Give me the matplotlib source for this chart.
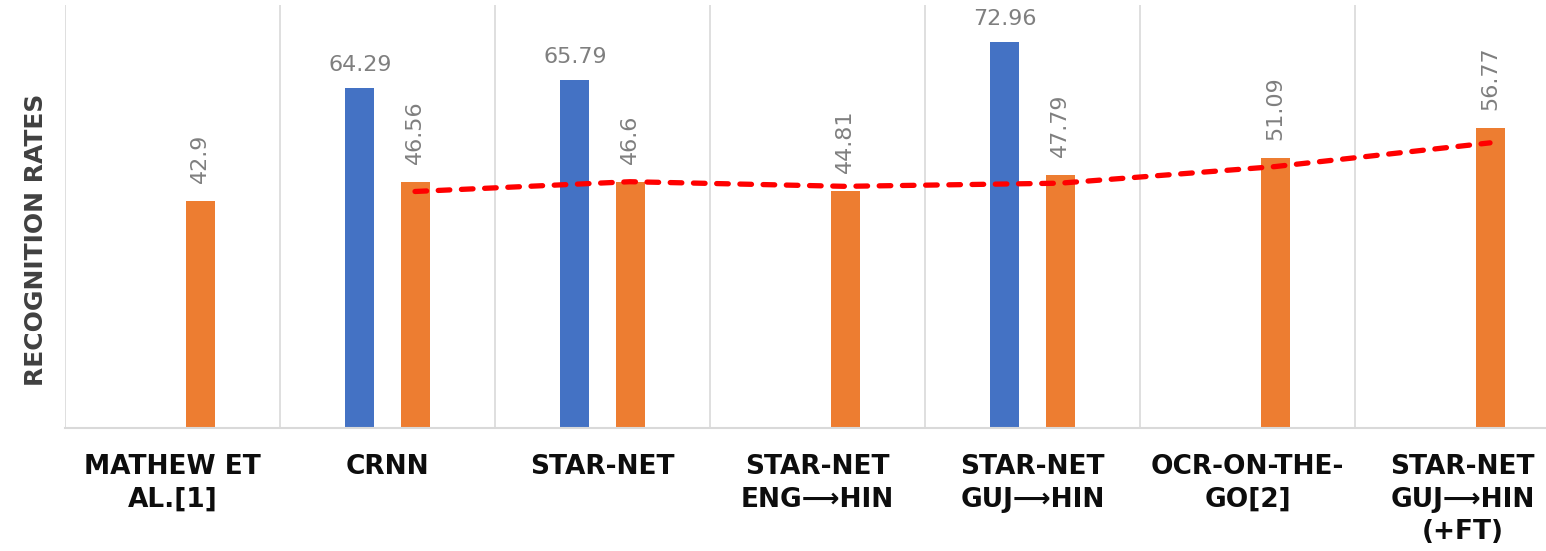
import numpy as np
import matplotlib
matplotlib.use("Agg")
import matplotlib.pyplot as plt

# recognition rates per method
categories = [
    "MATHEW ET\nAL.[1]",
    "CRNN",
    "STAR-NET",
    "STAR-NET\nENG\u27f6HIN",
    "STAR-NET\nGUJ\u27f6HIN",
    "OCR-ON-THE-\nGO[2]",
    "STAR-NET\nGUJ\u27f6HIN\n(+FT)",
]
series_a = [np.nan, 64.29, 65.79, np.nan, 72.96, np.nan, np.nan]
series_b = [42.9, 46.56, 46.6, 44.81, 47.79, 51.09, 56.77]

BLUE = "#4472C4"
ORANGE = "#ED7D31"
GRID = "#D9D9D9"
LABEL_GRAY = "#7F7F7F"

W, H = 1546, 551
fig = plt.figure(figsize=(W / 100, H / 100), dpi=100)
ax = fig.add_axes([65 / W, 1 - 428 / H, 1505 / W, 423 / H])

x = np.arange(len(categories))
bar_w = 0.135
off = 0.128

ax.bar(x - off, series_a, width=bar_w, color=BLUE, zorder=2)
ax.bar(x + off, series_b, width=bar_w, color=ORANGE, zorder=2)

# value labels: blue horizontal, orange rotated
for xi, v in zip(x, series_a):
    if np.isnan(v):
        continue
    ax.annotate(f"{v:g}", (xi - off, v), xytext=(0, 9.5), textcoords="offset points",
                ha="center", va="bottom", fontsize=16, color=LABEL_GRAY)
for xi, v in zip(x, series_b):
    ax.annotate(f"{v:g}", (xi + off, v), xytext=(0, 13), textcoords="offset points",
                ha="center", va="bottom", rotation=90, fontsize=16, color=LABEL_GRAY)

# 2-period moving average trendline over the orange series
ma = np.convolve(series_b, [0.5, 0.5], mode="valid")
ax.plot(x[1:] + off, ma, color="#FF0000", lw=3.8, dashes=(2.2, 2.2),
        dash_capstyle="round", solid_capstyle="round", zorder=3)

# category separators
ax.vlines(np.arange(-0.5, len(categories) + 0.5), 0, 80, color=GRID, lw=1.2, zorder=1)

ax.set_xlim(-0.5, len(categories) - 0.5)
ax.set_ylim(0, 80)
ax.set_yticks([])
ax.set_xticks(x)
ax.set_xticklabels(categories, fontsize=19, fontweight="bold", color="#0D0D0D",
                   linespacing=1.32)
ax.tick_params(axis="x", length=0, pad=19)
for side in ("top", "right", "left"):
    ax.spines[side].set_visible(False)
ax.spines["bottom"].set_color(GRID)
ax.spines["bottom"].set_linewidth(1.5)

fig.text(36 / W, 1 - 240 / H, "RECOGNITION RATES", rotation=90, ha="center", va="center",
         fontsize=18, fontweight="bold", color="#404040")

fig.savefig("out.png", dpi=100)
